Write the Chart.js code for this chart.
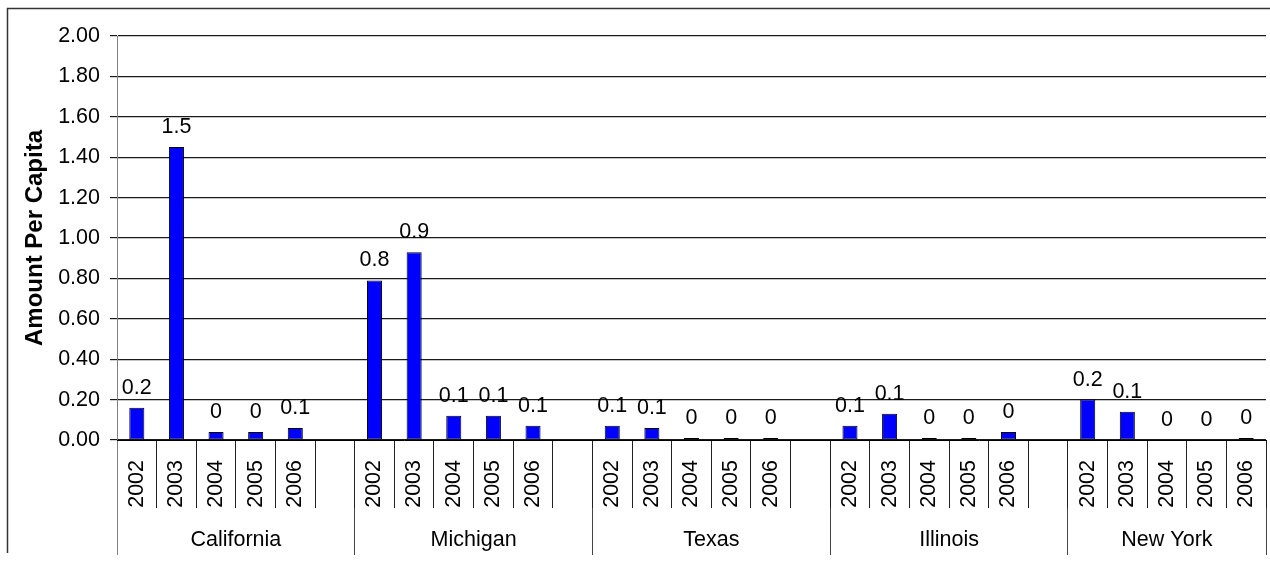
<!DOCTYPE html>
<html>
<head>
<meta charset="utf-8">
<title>Amount Per Capita by State</title>
<script src="https://cdn.jsdelivr.net/npm/chart.js@4.4.1/dist/chart.umd.min.js"></script>
<style>
  html, body { margin: 0; padding: 0; background: #ffffff; }
  #chart { display: block; }
</style>
</head>
<body>
<canvas id="chart" width="1270" height="562"></canvas>
<script>
// Categories
const states = ['California', 'Michigan', 'Texas', 'Illinois', 'New York'];
const years = ['2002', '2003', '2004', '2005', '2006'];

// Amount per capita, one array per state (2002..2006)
const california = [0.16, 1.45, 0.04, 0.04, 0.06];
const michigan   = [0.79, 0.93, 0.12, 0.12, 0.07];
const texas      = [0.07, 0.06, 0.01, 0.01, 0.01];
const illinois   = [0.07, 0.13, 0.01, 0.01, 0.04];
const newYork    = [0.20, 0.14, 0, 0, 0.01];

// Value axis
const yMin = 0, yMax = 2, yStep = 0.2;

const FONT = '"Liberation Sans", Arial, Helvetica, sans-serif';
const FS = 21.5;

// Flatten into one category axis, with an empty slot between states
const stateValues = [california, michigan, texas, illinois, newYork];
const slotLabels = [];
const slotValues = [];
const groupRanges = [];
stateValues.forEach((vals, s) => {
  const start = slotLabels.length;
  years.forEach((y, i) => { slotLabels.push(y); slotValues.push(vals[i]); });
  if (s < states.length - 1) { slotLabels.push(''); slotValues.push(null); }
  groupRanges.push([start - 0.5, slotLabels.length - 0.5]);
});

// Positions on the state axis: group boundaries and group centres
const boundaries = [groupRanges[0][0]].concat(groupRanges.map(r => r[1]));
const centres = groupRanges.map(r => (r[0] + r[1]) / 2);
const stateTicks = boundaries.concat(centres).sort((a, b) => a - b);

function fmtLabel(v) {
  return String(Math.round(v * 10) / 10);
}

// Frame around the chart
const framePlugin = {
  id: 'frame',
  beforeDraw(chart) {
    const ctx = chart.ctx;
    ctx.save();
    ctx.fillStyle = '#ffffff';
    ctx.fillRect(0, 0, chart.width, chart.height);
    ctx.strokeStyle = '#333333';
    ctx.lineWidth = 1.5;
    ctx.beginPath();
    ctx.moveTo(7.5, 553);
    ctx.lineTo(7.5, 8.5);
    ctx.lineTo(chart.width, 8.5);
    ctx.stroke();
    ctx.restore();
  }
};

// Value labels above every bar
const valueLabels = {
  id: 'valueLabels',
  afterDatasetsDraw(chart) {
    const ctx = chart.ctx;
    const meta = chart.getDatasetMeta(0);
    const data = chart.data.datasets[0].data;
    ctx.save();
    ctx.font = FS + 'px ' + FONT;
    ctx.fillStyle = '#000000';
    ctx.textAlign = 'center';
    ctx.textBaseline = 'middle';
    meta.data.forEach((bar, i) => {
      const v = data[i];
      if (v === null || v === undefined) return;
      ctx.fillText(fmtLabel(v), bar.x, bar.y - 20);
    });
    ctx.restore();
  }
};

new Chart(document.getElementById('chart'), {
  type: 'bar',
  data: {
    labels: slotLabels,
    datasets: [{
      data: slotValues,
      backgroundColor: '#0000ff',
      borderColor: '#000000',
      borderWidth: 1,
      borderSkipped: false,
      categoryPercentage: 1,
      barPercentage: 0.38,
      xAxisID: 'x',
      yAxisID: 'y'
    }]
  },
  options: {
    responsive: false,
    animation: false,
    devicePixelRatio: 1,
    layout: { padding: { top: 36, right: 4, left: 0, bottom: 0 } },
    plugins: {
      legend: { display: false },
      tooltip: { enabled: false },
      title: { display: false }
    },
    scales: {
      y: {
        min: yMin,
        max: yMax,
        afterFit(scale) { scale.width = 117; },
        ticks: {
          stepSize: yStep,
          padding: 10,
          color: '#000000',
          font: { family: FONT, size: FS },
          callback: v => Number(v).toFixed(2)
        },
        grid: { color: '#1a1a1a', lineWidth: 1.2, tickLength: 7 },
        border: { display: true, color: '#808080', width: 1 },
        title: {
          display: true,
          text: 'Amount Per Capita',
          color: '#000000',
          font: { family: FONT, size: 24, weight: 'bold' },
          padding: { top: 21, bottom: 0 }
        }
      },
      x: {
        type: 'category',
        position: 'bottom',
        weight: 0,
        offset: true,
        afterFit(scale) { scale.height = 68; },
        ticks: {
          autoSkip: false,
          minRotation: 90,
          maxRotation: 90,
          padding: -48,
          color: '#000000',
          font: { family: FONT, size: FS }
        },
        grid: {
          offset: true,
          drawOnChartArea: false,
          drawTicks: true,
          tickLength: 68,
          lineWidth: 1,
          color: ctx => (ctx.index === 0 ? '#808080' : '#222222')
        },
        border: { display: true, color: '#000000', width: 1 }
      },
      states: {
        type: 'linear',
        position: 'bottom',
        weight: 1,
        offset: false,
        min: groupRanges[0][0],
        max: groupRanges[groupRanges.length - 1][1],
        afterFit(scale) { scale.height = 54; },
        afterBuildTicks(scale) {
          scale.ticks = stateTicks.map(v => ({ value: v }));
        },
        ticks: {
          autoSkip: false,
          maxRotation: 0,
          minRotation: 0,
          padding: -28,
          color: '#000000',
          font: { family: FONT, size: FS },
          callback: v => {
            const k = centres.indexOf(v);
            return k >= 0 ? states[k] : '';
          }
        },
        grid: {
          offset: false,
          drawOnChartArea: false,
          drawTicks: true,
          tickLength: 47,
          lineWidth: 1,
          color: ctx => {
            const v = ctx.tick ? ctx.tick.value : null;
            if (v === boundaries[0]) return '#808080';
            return boundaries.indexOf(v) >= 0 ? '#444444' : 'rgba(0,0,0,0)';
          }
        },
        border: { display: false }
      }
    }
  },
  plugins: [framePlugin, valueLabels]
});
</script>
</body>
</html>
